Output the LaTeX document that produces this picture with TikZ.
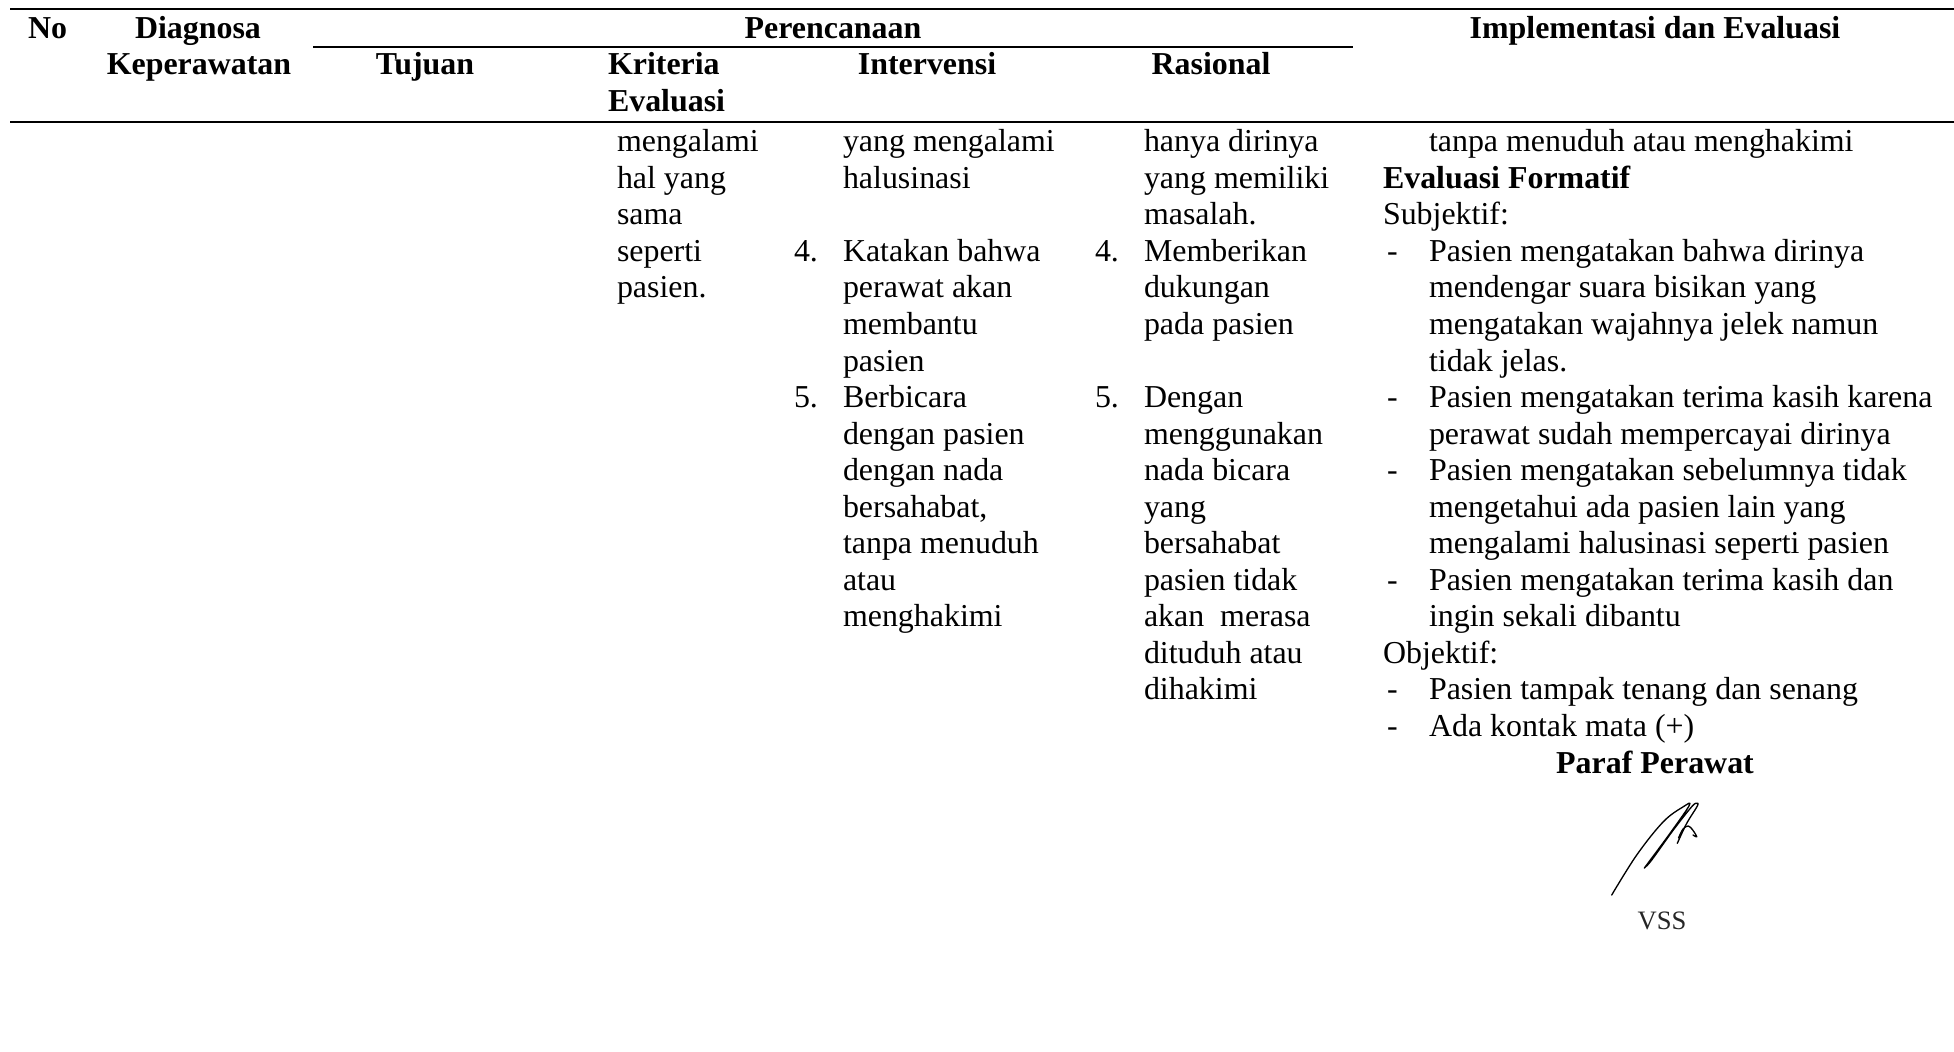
\documentclass[tikz,border=0pt]{standalone}
\usepackage{fontspec}
\setmainfont{Liberation Serif}
% baseline of body row #1 (multi-line nodes are anchored on their last line)
\newcommand\rowy[1]{151.7+36.55*#1}
\begin{document}
\begin{tikzpicture}[
  x=0.376pt, y=-0.376pt,
  txt/.style={inner sep=0pt, outer sep=0pt, anchor=base west, align=left,
    font=\fontsize{12}{13.743}\selectfont},
  ctxt/.style={txt, anchor=base, align=center},
  hdr/.style={ctxt, font=\fontsize{12}{13.743}\selectfont\bfseries},
  hdrl/.style={txt, font=\fontsize{12}{13.743}\selectfont\bfseries},
  rule/.style={line width=0.75pt},
  subrule/.style={line width=0.56pt},
  sign/.style={line width=0.5pt, line cap=round, line join=round}
]
\useasboundingbox (0,0) rectangle (1954,1051);

% table rules
\coordinate (topL) at (10,9);     \coordinate (topR) at (1954,9);
\coordinate (midL) at (313,47);   \coordinate (midR) at (1353,47);
\coordinate (botL) at (10,122);   \coordinate (botR) at (1954,122);
\draw[rule] (topL) -- (topR);
\draw[subrule] (midL) -- (midR);
\draw[rule] (botL) -- (botR);

% header
\node[hdrl] (hNo) at (28,38) {No};
\node[hdr] (hDiag1) at (198,38) {Diagnosa};
\node[hdr] (hDiag2) at (199,74.5) {Keperawatan};
\node[hdr] (hPlan) at (833,38) {Perencanaan};
\node[hdr] (hImpl) at (1655,38) {Implementasi dan Evaluasi};
\node[hdr] (hTuj) at (425,74.5) {Tujuan};
\node[hdrl] (hKrit) at (608,111) {Kriteria\\Evaluasi};
\node[hdr] (hInt) at (927,74.5) {Intervensi};
\node[hdr] (hRas) at (1211,74.5) {Rasional};

% Kriteria Evaluasi
\node[txt] (krit) at (617,{\rowy{4}}) {mengalami\\hal yang\\sama\\seperti\\pasien.};

% Intervensi
\node[txt] (intA) at (843,{\rowy{1}}) {yang mengalami\\halusinasi};
\node[txt] (intN4) at (794,{\rowy{3}}) {4.};
\node[txt] (intB) at (843,{\rowy{6}}) {Katakan bahwa\\perawat akan\\membantu\\pasien};
\node[txt] (intN5) at (794,{\rowy{7}}) {5.};
\node[txt] (intC) at (843,{\rowy{13}}) {Berbicara\\dengan pasien\\dengan nada\\bersahabat,\\tanpa menuduh\\atau\\menghakimi};

% Rasional
\node[txt] (rasA) at (1144,{\rowy{2}}) {hanya dirinya\\yang memiliki\\masalah.};
\node[txt] (rasN4) at (1095,{\rowy{3}}) {4.};
\node[txt] (rasB) at (1144,{\rowy{5}}) {Memberikan\\dukungan\\pada pasien};
\node[txt] (rasN5) at (1095,{\rowy{7}}) {5.};
\node[txt] (rasC) at (1144,{\rowy{15}}) {Dengan\\menggunakan\\nada bicara\\yang\\bersahabat\\pasien tidak\\akan\ \ merasa\\dituduh atau\\dihakimi};

% Implementasi dan Evaluasi
\node[txt] (impA) at (1429,{\rowy{0}}) {tanpa menuduh atau menghakimi};
\node[hdrl] (evF) at (1383,{\rowy{1}}) {Evaluasi Formatif};
\node[txt] (subj) at (1383,{\rowy{2}}) {Subjektif:};
\node[txt] (d1) at (1387,{\rowy{3}}) {-};
\node[txt] (s1) at (1429,{\rowy{6}}) {Pasien mengatakan bahwa dirinya\\mendengar suara bisikan yang\\mengatakan wajahnya jelek namun\\tidak jelas.};
\node[txt] (d2) at (1387,{\rowy{7}}) {-};
\node[txt] (s2) at (1429,{\rowy{8}}) {Pasien mengatakan terima kasih karena\\perawat sudah mempercayai dirinya};
\node[txt] (d3) at (1387,{\rowy{9}}) {-};
\node[txt] (s3) at (1429,{\rowy{11}}) {Pasien mengatakan sebelumnya tidak\\mengetahui ada pasien lain yang\\mengalami halusinasi seperti pasien};
\node[txt] (d4) at (1387,{\rowy{12}}) {-};
\node[txt] (s4) at (1429,{\rowy{13}}) {Pasien mengatakan terima kasih dan\\ingin sekali dibantu};
\node[txt] (obj) at (1383,{\rowy{14}}) {Objektif:};
\node[txt] (d5) at (1387,{\rowy{15}}) {-};
\node[txt] (o1) at (1429,{\rowy{15}}) {Pasien tampak tenang dan senang};
\node[txt] (d6) at (1387,{\rowy{16}}) {-};
\node[txt] (o2) at (1429,{\rowy{16}}) {Ada kontak mata (+)};
\node[hdr] (paraf) at (1655,{\rowy{17}}) {Paraf Perawat};

% nurse's signature
\draw[sign] plot[smooth, tension=0.6] coordinates {
  (1611.7,895) (1636.7,855) (1663.3,821.7) (1683.3,806.7) (1689.3,805.3)
  (1670,833.3) (1647.3,864) (1645,867.3) (1651.7,860) (1673.3,830)
  (1691.7,806.7) (1696.7,803.3) (1697.3,806) (1686.7,823.3) (1677.3,843.3)};
\draw[sign] plot[smooth, tension=0.6] coordinates {
  (1678.5,838) (1683,829) (1688.3,826) (1692.7,830) (1696.7,836.7) (1693,835)};
\node[ctxt, font=\fontsize{10}{11}\selectfont, text=black!85] (vss) at (1662,929) {VSS};
\end{tikzpicture}
\end{document}
